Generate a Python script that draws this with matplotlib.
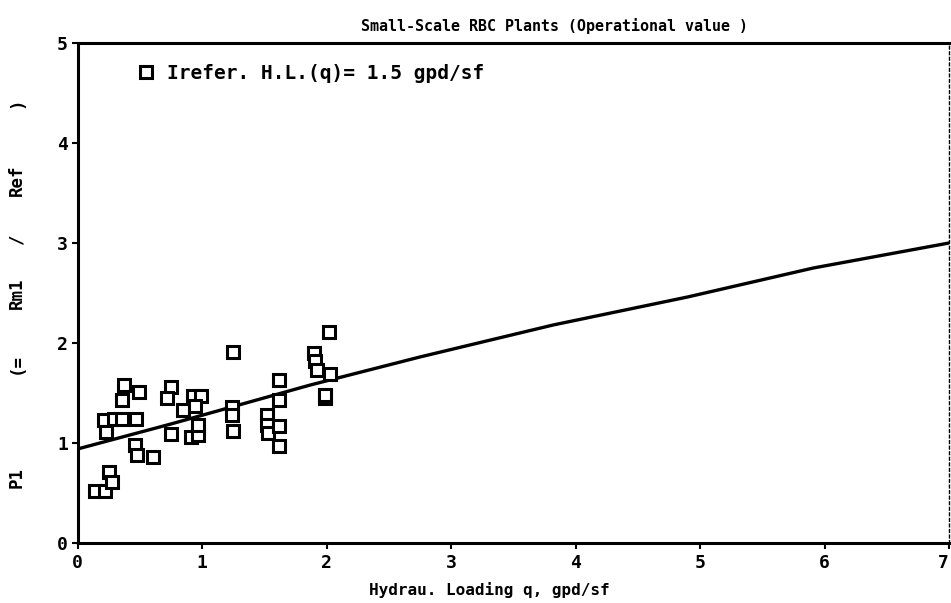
import matplotlib
matplotlib.use("Agg")
import matplotlib.pyplot as plt

# Observed data (hydraulic loading q vs Pl ratio)
q_vals = [0.14, 0.22, 0.25, 0.28, 0.21, 0.23, 0.29, 0.36, 0.47, 0.37, 0.36, 0.49,
          0.46, 0.48, 0.61, 0.75, 0.72, 0.75, 0.85, 0.93, 0.99, 0.94, 0.91, 0.97,
          0.97, 1.25, 1.24, 1.24, 1.25, 1.52, 1.52, 1.53, 1.62, 1.62, 1.62, 1.62,
          2.02, 1.90, 1.91, 1.92, 2.03, 1.99, 1.99]
pl_vals = [0.52, 0.52, 0.71, 0.61, 1.23, 1.11, 1.24, 1.24, 1.24, 1.58, 1.43, 1.51,
           0.98, 0.88, 0.86, 1.56, 1.45, 1.09, 1.33, 1.47, 1.47, 1.37, 1.06, 1.08,
           1.18, 1.91, 1.36, 1.28, 1.12, 1.28, 1.18, 1.10, 1.63, 1.43, 1.17, 0.97,
           2.11, 1.90, 1.82, 1.73, 1.69, 1.45, 1.48]

# Fitted curve
curve_q = [0.0, 0.75, 1.87, 2.75, 3.82, 4.90, 5.91, 7.0]
curve_pl = [0.94, 1.19, 1.58, 1.86, 2.18, 2.46, 2.75, 3.0]

x_ticks = [0, 1, 2, 3, 4, 5, 6, 7]
y_ticks = [0, 1, 2, 3, 4, 5]
x_tick_labels = ["0", "1", "2", "3", "4", "5", "6", "7"]
y_tick_labels = ["0", "1", "2", "3", "4", "5"]

title = "Small-Scale RBC Plants (Operational value )"
xlabel = "Hydrau. Loading q, gpd/sf"
ylabel_parts = ["P1", "(=", "Rm1", "/", "Ref", ")"]
legend_label = "Irefer. H.L.(q)= 1.5 gpd/sf"

FAM = "DejaVu Sans Mono"
W, H = 951, 603

fig = plt.figure(figsize=(9.51, 6.03), dpi=100)
ax = fig.add_axes([77.5 / W, 1 - 543 / H, (949 - 77.5) / W, (543 - 43) / H])

ax.plot(curve_q, curve_pl, color="black", lw=2.4, solid_joinstyle="miter")
ax.plot(q_vals, pl_vals, linestyle="none", marker="s", markersize=8.3,
        markerfacecolor="white", markeredgecolor="black", markeredgewidth=2.2,
        label=legend_label)

ax.set_xlim(0, 7)
ax.set_ylim(0, 5)
ax.set_xticks(x_ticks)
ax.set_xticklabels(x_tick_labels, family=FAM, weight="bold", size=13)
ax.set_yticks(y_ticks)
ax.set_yticklabels(y_tick_labels, family=FAM, weight="bold", size=13)
ax.get_xticklabels()[-1].set_horizontalalignment("right")
ax.tick_params(axis="x", direction="out", length=4, width=1.5, pad=4)
ax.tick_params(axis="y", direction="out", length=4, width=1.5, pad=3)

for side in ["left", "bottom", "top"]:
    ax.spines[side].set_linewidth(2.2)
ax.spines["right"].set_linewidth(1)
ax.spines["right"].set_linestyle((0, (2, 2)))

fig.text(0.583, 1 - 26 / H, title, ha="center", va="center",
         fontsize=10.8, family=FAM, weight="bold")
fig.text(0.515, 1 - 590 / H, xlabel, ha="center", va="center",
         fontsize=11.5, family=FAM, weight="bold")

# y-axis label: widely spaced tokens, read bottom to top
ylabel_y_px = [477, 364, 293, 240, 180, 103]
for part, ypx in zip(ylabel_parts, ylabel_y_px):
    fig.text(17 / W, 1 - ypx / H, part, ha="center", va="center", rotation=90,
             fontsize=12.5, family=FAM, weight="bold")

ax.legend(loc="upper left", bbox_to_anchor=(0.054, 0.982), frameon=False,
          handlelength=1.0, handletextpad=0.6, borderaxespad=0.2,
          prop={"family": FAM, "weight": "bold", "size": 14})

fig.savefig("out.png", dpi=100)
